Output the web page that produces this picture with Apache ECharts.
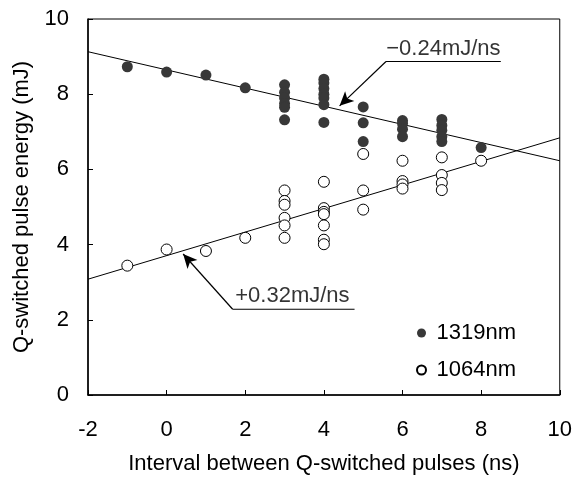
<!DOCTYPE html>
<html>
<head>
<meta charset="utf-8">
<script src="https://cdn.jsdelivr.net/npm/echarts@6/dist/echarts.min.js"></script>
<style>
  html, body { margin: 0; padding: 0; background: #fff; }
  #chart { width: 575px; height: 480px; }
</style>
</head>
<body>
<div id="chart"></div>
<script>
// measured points, x = interval (ns), y = energy (mJ)
const x1319 = [-1, 0, 1, 2, 3, 3, 3, 3, 3, 3, 4, 4, 4, 4, 4, 4, 4, 5, 5, 5, 6, 6, 6, 6, 7, 7, 7, 7, 7, 8];
const y1319 = [8.73, 8.59, 8.51, 8.17, 8.25, 8.05, 7.9, 7.75, 7.65, 7.32, 8.4, 8.3, 8.15, 8.0, 7.9, 7.72, 7.25,
  7.66, 7.24, 6.74, 7.3, 7.22, 7.07, 6.87, 7.33, 7.17, 7.04, 6.87, 6.74, 6.58];

const x1064 = [-1, 0, 1, 2, 3, 3, 3, 3, 3, 3, 4, 4, 4, 4, 4, 4, 4, 5, 5, 5, 6, 6, 6, 6, 7, 7, 7, 7, 8];
const y1064 = [3.44, 3.87, 3.83, 4.18, 5.44, 5.16, 5.06, 4.71, 4.51, 4.18, 5.67, 4.97, 4.87, 4.81, 4.51, 4.13, 4.01,
  6.41, 5.44, 4.93, 6.23, 5.69, 5.6, 5.49, 6.32, 5.85, 5.64, 5.45, 6.23];

// fitted lines (end points at the axis limits)
const fit1319 = [[-2, 9.13], [10, 6.23]];
const fit1064 = [[-2, 3.08], [10, 6.84]];

// slope notes: underline end, corner, arrow tip, label anchor
const noteTopPath = [[8.50, 8.87], [5.58, 8.87], [4.40, 7.69]];
const noteTopLabel = [7.04, 8.87, '\u22120.24mJ/ns'];
const noteBotPath = [[4.78, 2.28], [1.68, 2.28], [0.42, 3.75]];
const noteBotLabel = [3.2, 2.28, '+0.32mJ/ns'];

const xTicks = [-2, 0, 2, 4, 6, 8, 10];
const yTicks = [0, 2, 4, 6, 8, 10];

const zip = (xs, ys) => xs.map((x, i) => [x, ys[i]]);
const FONT = 'Liberation Sans, Arial, sans-serif';
const FS = 22;

const chart = echarts.init(document.getElementById('chart'));

const axisCommon = {
  axisLine: { show: true, onZero: false, lineStyle: { color: '#000', width: 1.5 } },
  axisTick: { show: true, inside: true, length: 5, lineStyle: { color: '#000', width: 1 } },
  splitLine: { show: false },
  axisLabel: { color: '#000', fontSize: FS, fontFamily: FONT },
  nameLocation: 'middle',
  nameTextStyle: { color: '#000', fontSize: FS, fontFamily: FONT },
};

// underline as a plain line, leader with arrow as markLine
const note = (path, lab) => [
  {
    type: 'line',
    silent: true,
    symbol: 'none',
    data: [path[0], path[1]],
    lineStyle: { color: '#000', width: 1.2 },
    markLine: {
      silent: true,
      symbol: ['none', 'arrow'],
      symbolSize: [10, 14],
      label: { show: false },
      lineStyle: { color: '#000', width: 1.2, type: 'solid' },
      data: [[{ coord: path[1] }, { coord: path[2] }]],
    },
    z: 5,
  },
  {
    type: 'scatter',
    silent: true,
    symbolSize: 0,
    data: [[lab[0], lab[1]]],
    label: {
      show: true,
      position: 'top',
      distance: 2,
      formatter: lab[2],
      color: '#000',
      fontSize: FS,
      fontFamily: FONT,
    },
    z: 5,
  },
];

chart.setOption({
  animation: false,
  grid: {
    left: 88,
    right: 14,
    top: 19,
    bottom: 80,
    show: true,
    borderColor: '#000',
    borderWidth: 1,
  },
  legend: {
    orient: 'vertical',
    left: 411,
    top: 317,
    itemGap: 15,
    itemWidth: 20,
    itemHeight: 9,
    icon: 'circle',
    textStyle: { color: '#000', fontSize: FS, fontFamily: FONT },
    data: ['1319nm', '1064nm'],
  },
  xAxis: {
    ...axisCommon,
    type: 'value',
    min: xTicks[0],
    max: xTicks[xTicks.length - 1],
    interval: 2,
    name: 'Interval between Q-switched pulses (ns)',
    nameGap: 58,
    axisLabel: { ...axisCommon.axisLabel, margin: 24 },
  },
  yAxis: {
    ...axisCommon,
    type: 'value',
    min: yTicks[0],
    max: yTicks[yTicks.length - 1],
    interval: 2,
    name: 'Q-switched pulse energy (mJ)',
    nameGap: 55,
    axisLabel: { ...axisCommon.axisLabel, margin: 19 },
  },
  series: [
    {
      name: 'fit1319',
      type: 'line',
      data: fit1319,
      symbol: 'none',
      silent: true,
      lineStyle: { color: '#000', width: 1 },
      z: 1,
    },
    {
      name: 'fit1064',
      type: 'line',
      data: fit1064,
      symbol: 'none',
      silent: true,
      lineStyle: { color: '#000', width: 1 },
      z: 1,
    },
    {
      name: '1319nm',
      type: 'scatter',
      symbol: 'circle',
      symbolSize: 11,
      itemStyle: { color: '#383838', opacity: 1 },
      data: zip(x1319, y1319),
      z: 3,
    },
    {
      name: '1064nm',
      type: 'scatter',
      symbol: 'circle',
      symbolSize: 11,
      itemStyle: { color: '#fff', borderColor: '#000', borderWidth: 1, opacity: 1 },
      data: zip(x1064, y1064),
      z: 3,
    },
    ...note(noteTopPath, noteTopLabel),
    ...note(noteBotPath, noteBotLabel),
  ],
});
</script>
</body>
</html>
